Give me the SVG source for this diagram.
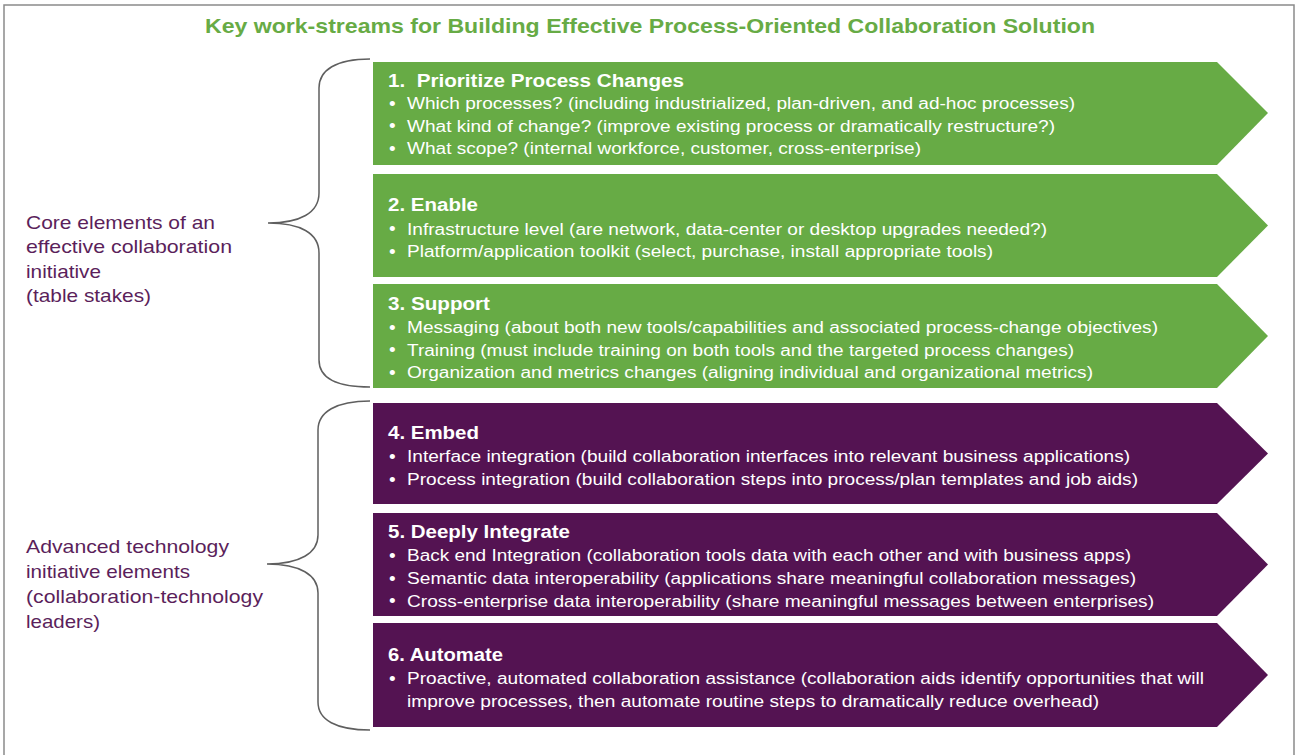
<svg xmlns="http://www.w3.org/2000/svg" width="1297" height="755" viewBox="0 0 1297 755">
<style>
.g{fill:#67AB45}
.p{fill:#541352}
.h{font-family:"Liberation Sans",Arial,sans-serif;font-weight:bold;font-size:17.5px;fill:#fff}
.b{font-family:"Liberation Sans",Arial,sans-serif;font-size:16px;fill:#fff}
.d{font-family:"Liberation Sans",Arial,sans-serif;font-size:19px;fill:#fff}
.l{font-family:"Liberation Sans",Arial,sans-serif;font-size:19px;fill:#5B1F5B}
.t{font-family:"Liberation Sans",Arial,sans-serif;font-weight:bold;font-size:20.5px;fill:#67AB45}
.br{fill:none;stroke:#5f5f5f;stroke-width:1.5}
</style>
<rect x="0" y="0" width="1297" height="755" fill="#fff"/>
<rect x="4" y="5" width="1290" height="770" fill="none" stroke="#8a8a8a" stroke-width="1.5"/>
<g id="title"><text class="t" x="205" y="33" textLength="890" lengthAdjust="spacingAndGlyphs">Key work-streams for Building Effective Process-Oriented Collaboration Solution</text></g>

<g id="label-core">
<text class="l" x="26" y="228.5" textLength="189" lengthAdjust="spacingAndGlyphs">Core elements of an</text>
<text class="l" x="26" y="253" textLength="206" lengthAdjust="spacingAndGlyphs">effective collaboration</text>
<text class="l" x="26" y="277.5" textLength="75" lengthAdjust="spacingAndGlyphs">initiative</text>
<text class="l" x="26" y="302" textLength="125" lengthAdjust="spacingAndGlyphs">(table stakes)</text>
</g>
<g id="label-advanced">
<text class="l" x="26" y="553" textLength="203" lengthAdjust="spacingAndGlyphs">Advanced technology</text>
<text class="l" x="26" y="578" textLength="164" lengthAdjust="spacingAndGlyphs">initiative elements</text>
<text class="l" x="26" y="603" textLength="237" lengthAdjust="spacingAndGlyphs">(collaboration-technology</text>
<text class="l" x="26" y="627.5" textLength="74" lengthAdjust="spacingAndGlyphs">leaders)</text>
</g>

<g id="connectors">
<path class="br" d="M370,59 C336,59 319,70 319,88 L319,193 C319,213 300,223 268,223 C300,223 319,233 319,253 L319,360 C319,378 336,387 370,387"/>
<path class="br" d="M370,401 C336,401 318,412 318,430 L318,535 C318,553 300,564 267,564 C300,564 318,575 318,593 L318,702 C318,720 336,730 370,730"/>
</g>

<g id="node1">
<polygon class="g" points="373,62 1217,62 1268,113 1217,165 373,165"/>
<text class="h" x="388" y="87" xml:space="preserve" textLength="296" lengthAdjust="spacingAndGlyphs">1.  Prioritize Process Changes</text>
<text class="d" x="389" y="109.5">•</text><text class="b" x="407" y="109" textLength="668" lengthAdjust="spacingAndGlyphs">Which processes? (including industrialized, plan-driven, and ad-hoc processes)</text>
<text class="d" x="389" y="132">•</text><text class="b" x="407" y="131.5" textLength="648" lengthAdjust="spacingAndGlyphs">What kind of change? (improve existing process or dramatically restructure?)</text>
<text class="d" x="389" y="154.5">•</text><text class="b" x="407" y="154" textLength="514" lengthAdjust="spacingAndGlyphs">What scope? (internal workforce, customer, cross-enterprise)</text>
</g>

<g id="node2">
<polygon class="g" points="373,174 1217,174 1268,225.5 1217,277 373,277"/>
<text class="h" x="388" y="211" textLength="90" lengthAdjust="spacingAndGlyphs">2. Enable</text>
<text class="d" x="389" y="235">•</text><text class="b" x="407" y="234.5" textLength="640" lengthAdjust="spacingAndGlyphs">Infrastructure level (are network, data-center or desktop upgrades needed?)</text>
<text class="d" x="389" y="257.5">•</text><text class="b" x="407" y="257" textLength="586" lengthAdjust="spacingAndGlyphs">Platform/application toolkit (select, purchase, install appropriate tools)</text>
</g>

<g id="node3">
<polygon class="g" points="373,284 1217,284 1268,336 1217,388 373,388"/>
<text class="h" x="388" y="310" textLength="102" lengthAdjust="spacingAndGlyphs">3. Support</text>
<text class="d" x="389" y="333.5">•</text><text class="b" x="407" y="333" textLength="751" lengthAdjust="spacingAndGlyphs">Messaging (about both new tools/capabilities and associated process-change objectives)</text>
<text class="d" x="389" y="356">•</text><text class="b" x="407" y="355.5" textLength="667" lengthAdjust="spacingAndGlyphs">Training (must include training on both tools and the targeted process changes)</text>
<text class="d" x="389" y="378.5">•</text><text class="b" x="407" y="378" textLength="686" lengthAdjust="spacingAndGlyphs">Organization and metrics changes (aligning individual and organizational metrics)</text>
</g>

<g id="node4">
<polygon class="p" points="373,403 1217,403 1268,453.5 1217,504 373,504"/>
<text class="h" x="388" y="439" textLength="91" lengthAdjust="spacingAndGlyphs">4. Embed</text>
<text class="d" x="389" y="462.5">•</text><text class="b" x="407" y="462" textLength="723" lengthAdjust="spacingAndGlyphs">Interface integration (build collaboration interfaces into relevant business applications)</text>
<text class="d" x="389" y="485.5">•</text><text class="b" x="407" y="485" textLength="731" lengthAdjust="spacingAndGlyphs">Process integration (build collaboration steps into process/plan templates and job aids)</text>
</g>

<g id="node5">
<polygon class="p" points="373,513 1217,513 1268,564.5 1217,616 373,616"/>
<text class="h" x="388" y="538" textLength="182" lengthAdjust="spacingAndGlyphs">5. Deeply Integrate</text>
<text class="d" x="389" y="561.5">•</text><text class="b" x="407" y="561" textLength="724" lengthAdjust="spacingAndGlyphs">Back end Integration (collaboration tools data with each other and with business apps)</text>
<text class="d" x="389" y="584.5">•</text><text class="b" x="407" y="584" textLength="729" lengthAdjust="spacingAndGlyphs">Semantic data interoperability (applications share meaningful collaboration messages)</text>
<text class="d" x="389" y="607">•</text><text class="b" x="407" y="606.5" textLength="747" lengthAdjust="spacingAndGlyphs">Cross-enterprise data interoperability (share meaningful messages between enterprises)</text>
</g>

<g id="node6">
<polygon class="p" points="373,623 1217,623 1268,675 1217,727 373,727"/>
<text class="h" x="388" y="661" textLength="115" lengthAdjust="spacingAndGlyphs">6. Automate</text>
<text class="d" x="389" y="684.5">•</text><text class="b" x="407" y="684" textLength="797" lengthAdjust="spacingAndGlyphs">Proactive, automated collaboration assistance (collaboration aids identify opportunities that will</text>
<text class="b" x="407" y="706.5" textLength="692" lengthAdjust="spacingAndGlyphs">improve processes, then automate routine steps to dramatically reduce overhead)</text>
</g>
</svg>
